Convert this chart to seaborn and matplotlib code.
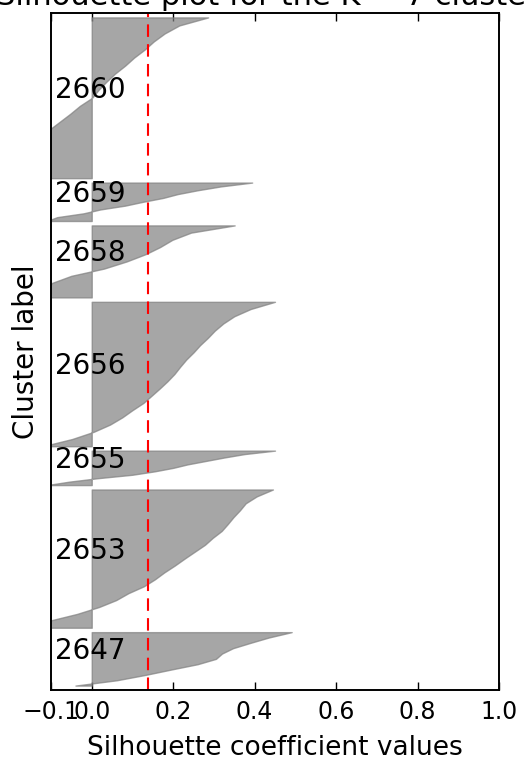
import numpy as np
import matplotlib
matplotlib.use("Agg")
import matplotlib.pyplot as plt
import seaborn as sns

# cluster blocks, drawn bottom -> top
cluster_ids = ['2647', '2653', '2655', '2656', '2658', '2659', '2660']
cluster_sizes = [121, 313, 78, 327, 163, 87, 364]

# sorted silhouette values at evenly spaced ranks (lowest first)
sil_2647 = [-0.04, 0.062, 0.132, 0.195, 0.26, 0.305, 0.32, 0.347, 0.39, 0.435, 0.491]
sil_2653 = [-0.13, -0.105, -0.036, 0.018, 0.06, 0.09, 0.128, 0.155, 0.178, 0.204, 0.228,
            0.253, 0.278, 0.297, 0.319, 0.334, 0.348, 0.364, 0.378, 0.405, 0.445]
sil_2655 = [-0.11, -0.055, 0.015, 0.10, 0.155, 0.20, 0.235, 0.28, 0.325, 0.375, 0.45]
sil_2656 = [-0.12, -0.048, 0.005, 0.045, 0.075, 0.10, 0.127, 0.147, 0.167, 0.186, 0.203,
            0.217, 0.232, 0.25, 0.266, 0.285, 0.302, 0.323, 0.35, 0.39, 0.45]
sil_2658 = [-0.13, -0.11, -0.098, -0.05, 0.03, 0.086, 0.132, 0.168, 0.198, 0.244, 0.351]
sil_2659 = [-0.11, -0.085, -0.02, 0.021, 0.082, 0.126, 0.175, 0.211, 0.26, 0.317, 0.394]
sil_2660 = [-0.14, -0.135, -0.13, -0.125, -0.12, -0.115, -0.105, -0.079, -0.053, -0.029, 0.001,
            0.017, 0.036, 0.057, 0.082, 0.104, 0.130, 0.152, 0.179, 0.215, 0.286]
sil_values = [sil_2647, sil_2653, sil_2655, sil_2656, sil_2658, sil_2659, sil_2660]

silhouette_avg = 0.138
x_ticks = [-0.1, 0.0, 0.2, 0.4, 0.6, 0.8, 1.0]

sns.set_style("white")
plt.rcParams['font.family'] = ['DejaVu Sans']
plt.rcParams['text.color'] = 'black'
plt.rcParams['axes.labelcolor'] = 'black'
plt.rcParams['xtick.color'] = 'black'
plt.rcParams['xtick.direction'] = 'in'
plt.rcParams['xtick.top'] = True
plt.rcParams['xtick.bottom'] = True

fig = plt.figure(figsize=(5.28, 7.62), dpi=100)
ax = fig.add_axes([51 / 528, 72 / 762, 448 / 528, 677 / 762])

y_lower = 10
for cid, size, vals in zip(cluster_ids, cluster_sizes, sil_values):
    y_upper = y_lower + size
    ys = np.linspace(y_lower, y_upper, len(vals))
    ax.fill_betweenx(ys, 0, vals, facecolor='gray', edgecolor='gray', alpha=0.7, linewidth=1)
    ax.text(-0.09, y_lower + 0.5 * size, cid, fontsize=20, color='black')
    y_lower = y_upper + 10

ax.axvline(x=silhouette_avg, color='red', linestyle='--', linewidth=1.5, dashes=(6, 3.5))

ax.set_xlim(-0.1, 1.0)
ax.set_ylim(0, sum(cluster_sizes) + (len(cluster_ids) + 1) * 10)
ax.set_xticks(x_ticks)
ax.set_yticks([])
ax.tick_params(axis='x', which='major', length=6, width=1, color='black',
               labelcolor='black', labelsize=17, pad=7)
for s in ax.spines.values():
    s.set_color('black')
    s.set_linewidth(1.4)

ax.set_title("Silhouette plot for the K = 7 clusters", fontsize=22, pad=6)
ax.set_xlabel("Silhouette coefficient values", fontsize=19, labelpad=8)
ax.set_ylabel("Cluster label", fontsize=20, labelpad=8)

plt.savefig("out.png", dpi=100)
plt.close()
